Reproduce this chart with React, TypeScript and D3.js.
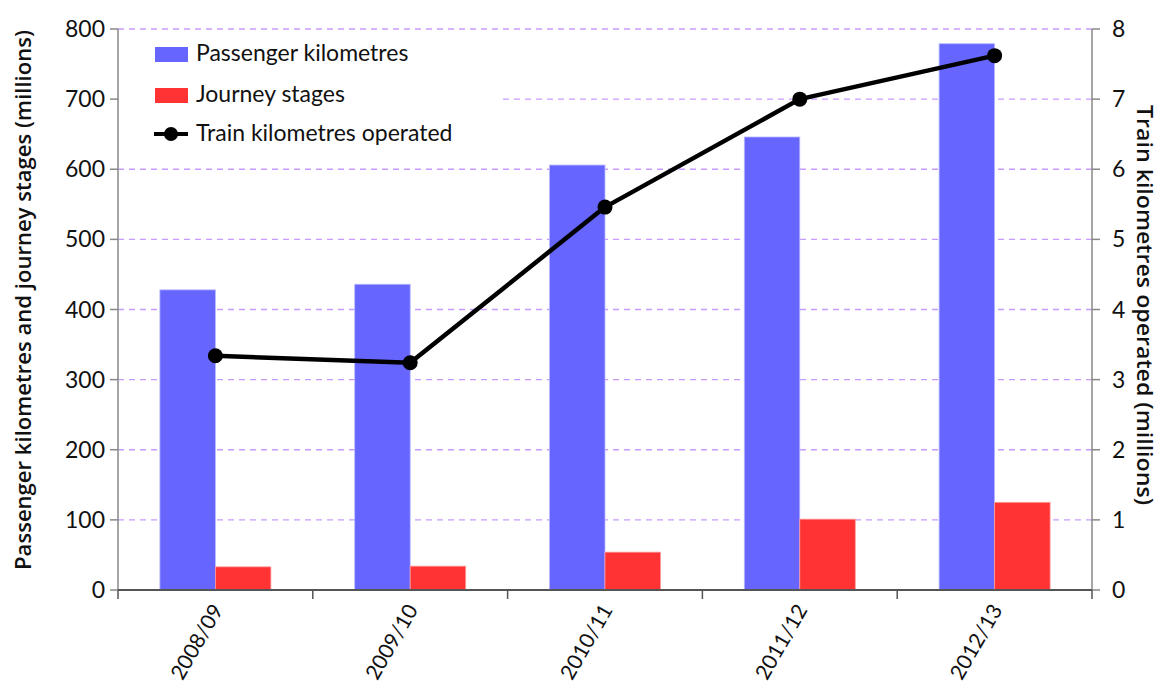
import React from "react";
import * as d3 from "d3";

const categories = ["2008/09", "2009/10", "2010/11", "2011/12", "2012/13"];
const passengerKm = [428, 436, 606, 646, 779];
const journeyStages = [33, 34, 54, 101, 125];
const trainKm = [3.34, 3.24, 5.46, 7.0, 7.62];
const leftTicks = [0, 100, 200, 300, 400, 500, 600, 700, 800];
const rightTicks = [0, 1, 2, 3, 4, 5, 6, 7, 8];

const W = 1162;
const H = 691;
const M = { left: 118, right: 1092, top: 29, bottom: 590 };
const FONT = "Lato, 'Open Sans', sans-serif";
const TITLE_FONT = "'Open Sans', 'Noto Sans', sans-serif";

export default function App() {
  const x0 = d3.scaleBand<string>().domain(categories).range([M.left, M.right]).padding(0);
  const bw = x0.bandwidth();
  const barW = 55.5;
  const x1 = d3
    .scaleBand<string>()
    .domain(["pk", "js"])
    .range([bw / 2 - barW, bw / 2 + barW])
    .padding(0);
  const yL = d3.scaleLinear().domain([0, 800]).range([M.bottom, M.top]);
  const yR = d3.scaleLinear().domain([0, 8]).range([M.bottom, M.top]);

  const line = d3
    .line<number>()
    .x((_, i) => (x0(categories[i]) as number) + bw / 2)
    .y((d) => yR(d));

  const gridColor = "#c79bff";
  const axisColor = "#888";

  return (
    <svg width={W} height={H} style={{ display: "block", position: "absolute", left: 0, top: 0 }} fontFamily={FONT}>
      <rect width={W} height={H} fill="#fff" />
      {/* gridlines */}
      {leftTicks.slice(1).map((t) => (
        <line
          key={"g" + t}
          x1={M.left}
          x2={M.right}
          y1={yL(t)}
          y2={yL(t)}
          stroke={gridColor}
          strokeWidth={1.3}
          strokeDasharray="6,5"
        />
      ))}
      {/* bars */}
      {categories.map((c, i) => (
        <g key={c} transform={`translate(${x0(c)},0)`}>
          <rect
            x={x1("pk")}
            y={yL(passengerKm[i])}
            width={x1.bandwidth()}
            height={yL(0) - yL(passengerKm[i])}
            fill="#6666ff"
            stroke="#b8b8ff"
            strokeWidth={0.8}
          />
          <rect
            x={x1("js")}
            y={yL(journeyStages[i])}
            width={x1.bandwidth()}
            height={yL(0) - yL(journeyStages[i])}
            fill="#ff3333"
            stroke="#ff9a9a"
            strokeWidth={0.8}
          />
        </g>
      ))}
      {/* legend background */}
      <rect x={M.left + 1} y={36} width={382} height={120} fill="#fff" />
      {/* legend */}
      <g fontSize={23} fill="#111">
        <rect x={155} y={47} width={33} height={15} fill="#6666ff" />
        <text x={196} y={61}>Passenger kilometres</text>
        <rect x={155} y={88} width={33} height={15} fill="#ff3333" />
        <text x={196} y={102}>Journey stages</text>
        <line x1={154} x2={188} y1={134} y2={134} stroke="#000" strokeWidth={4} />
        <circle cx={171} cy={134} r={7} fill="#000" />
        <text x={196} y={141}>Train kilometres operated</text>
      </g>
      {/* left axis */}
      <line x1={M.left} x2={M.left} y1={M.top} y2={M.bottom} stroke={axisColor} strokeWidth={1.5} />
      {leftTicks.map((t) => (
        <g key={"l" + t}>
          <line x1={M.left - 8} x2={M.left} y1={yL(t)} y2={yL(t)} stroke={axisColor} strokeWidth={1.5} />
          <text x={M.left - 13} y={yL(t) + 8} textAnchor="end" fontSize={23} fill="#111">
            {t}
          </text>
        </g>
      ))}
      {/* right axis */}
      <line x1={M.right} x2={M.right} y1={M.top} y2={M.bottom} stroke={axisColor} strokeWidth={1.5} />
      {rightTicks.map((t) => (
        <g key={"r" + t}>
          <line x1={M.right} x2={M.right + 8} y1={yR(t)} y2={yR(t)} stroke={axisColor} strokeWidth={1.5} />
          <text x={M.right + 20} y={yR(t) + 8} textAnchor="start" fontSize={23} fill="#111">
            {t}
          </text>
        </g>
      ))}
      {/* bottom axis */}
      <line x1={M.left} x2={M.right} y1={M.bottom} y2={M.bottom} stroke="#555" strokeWidth={2} />
      {[...categories.map((c) => x0(c) as number), M.right].map((xv, i) => (
        <line key={"b" + i} x1={xv} x2={xv} y1={M.bottom} y2={M.bottom + 9} stroke="#555" strokeWidth={1.5} />
      ))}
      {categories.map((c) => {
        const cx = (x0(c) as number) + bw / 2 + 2;
        const cy = M.bottom + 16;
        return (
          <text
            key={"x" + c}
            transform={`translate(${cx},${cy}) rotate(-60)`}
            textAnchor="end"
            dy="0.35em"
            fontSize={21}
            fill="#111"
          >
            {c}
          </text>
        );
      })}
      {/* train km line */}
      <path d={line(trainKm) as string} fill="none" stroke="#000" strokeWidth={4.5} strokeLinejoin="round" />
      {trainKm.map((v, i) => (
        <circle key={"p" + i} cx={(x0(categories[i]) as number) + bw / 2} cy={yR(v)} r={7.5} fill="#000" />
      ))}
      {/* axis titles */}
      <text
        transform={`translate(31,300) rotate(-90)`}
        textAnchor="middle"
        fontFamily={TITLE_FONT}
        fontWeight={600}
        fontSize={21}
        textLength={540}
        lengthAdjust="spacingAndGlyphs"
        fill="#111"
      >
        Passenger kilometres and journey stages (millions)
      </text>
      <text
        transform={`translate(1137,305) rotate(90)`}
        textAnchor="middle"
        fontFamily={TITLE_FONT}
        fontWeight={600}
        fontSize={21}
        textLength={400}
        lengthAdjust="spacingAndGlyphs"
        fill="#111"
      >
        Train kilometres operated (millions)
      </text>
    </svg>
  );
}
